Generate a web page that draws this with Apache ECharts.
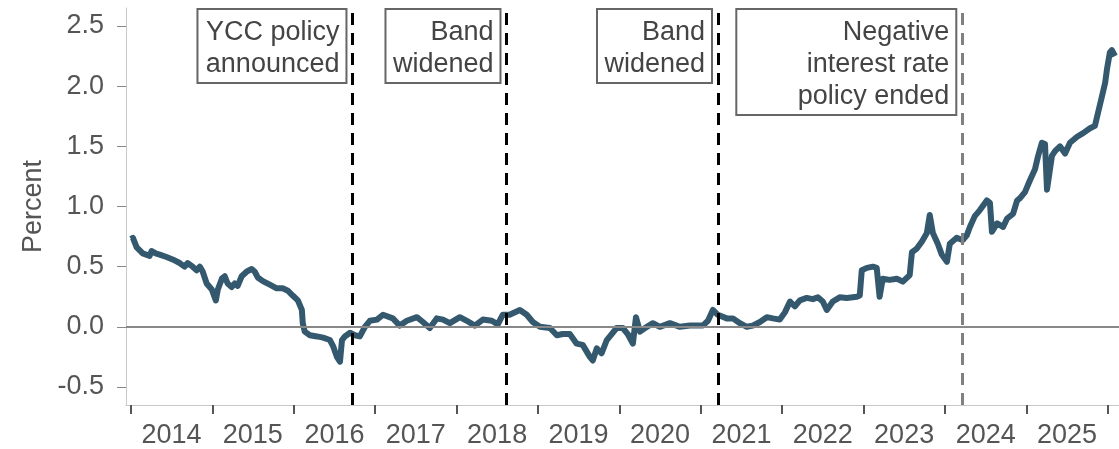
<!DOCTYPE html>
<html><head><meta charset="utf-8">
<script src="https://cdn.jsdelivr.net/npm/echarts@6/dist/echarts.min.js"></script>
<style>html,body{margin:0;padding:0;background:#fff}#c{width:1119px;height:449px}</style>
</head><body><div id="c"></div>
<script>
// ---- data ----
const dates = [
'2014-01-01','2014-01-10','2014-01-27','2014-02-23','2014-03-26','2014-04-04','2014-04-22','2014-05-10','2014-06-10','2014-07-07',
'2014-08-08','2014-08-30','2014-09-13','2014-10-05','2014-10-23','2014-11-06','2014-11-19','2014-12-07','2014-12-30',
'2015-01-17','2015-01-26','2015-02-13','2015-02-26','2015-03-11','2015-03-29','2015-04-12','2015-04-25','2015-05-13','2015-06-05',
'2015-06-27','2015-07-10','2015-07-24','2015-08-16','2015-09-16','2015-10-17','2015-11-13','2015-12-06','2015-12-28',
'2016-01-20','2016-02-07','2016-02-11','2016-02-20','2016-03-14','2016-04-15','2016-05-12','2016-06-12','2016-06-26','2016-07-13',
'2016-07-27','2016-08-05','2016-08-18','2016-09-10','2016-10-02','2016-10-24','2016-11-16','2016-12-08',
'2017-01-09','2017-02-05','2017-03-21','2017-04-21','2017-05-23','2017-07-07','2017-08-03','2017-09-03','2017-10-04','2017-11-01','2017-12-02',
'2018-01-16','2018-02-16','2018-03-24','2018-04-29','2018-06-08','2018-07-05','2018-07-27','2018-08-27','2018-10-12','2018-11-12','2018-12-09',
'2019-01-10','2019-02-24','2019-03-27','2019-04-22','2019-05-24','2019-06-24','2019-07-21','2019-08-22','2019-09-04','2019-09-22',
'2019-10-14','2019-11-06','2019-11-28','2019-12-20',
'2020-01-17','2020-02-08','2020-03-02','2020-03-16','2020-04-03','2020-05-04','2020-05-31','2020-07-01','2020-08-15','2020-09-29','2020-11-13',
'2021-01-10','2021-02-02','2021-02-24','2021-03-18','2021-04-27','2021-05-25','2021-06-25','2021-07-26','2021-08-22','2021-09-23',
'2021-10-24','2021-11-20','2021-12-21',
'2022-01-13','2022-02-05','2022-02-27','2022-03-21','2022-04-21','2022-05-18','2022-06-10','2022-07-02','2022-07-20','2022-08-16',
'2022-09-16','2022-10-18','2022-12-02','2022-12-15','2022-12-24',
'2023-01-16','2023-02-12','2023-03-01','2023-03-14','2023-03-28','2023-04-28','2023-05-30','2023-06-26','2023-07-27','2023-08-06',
'2023-08-28','2023-09-20','2023-10-12','2023-10-25','2023-11-08','2023-11-30','2023-12-18',
'2024-01-10','2024-01-23','2024-02-23','2024-03-21','2024-04-08','2024-04-22','2024-05-14','2024-06-06','2024-07-07','2024-07-21',
'2024-07-30','2024-08-22','2024-09-18','2024-10-06','2024-11-02','2024-11-20','2024-12-03','2024-12-25',
'2025-01-17','2025-02-08','2025-02-22','2025-03-11','2025-03-25','2025-04-03','2025-04-25','2025-05-09','2025-05-31','2025-06-23',
'2025-07-15','2025-08-16','2025-09-12','2025-10-13','2025-11-04','2025-11-18','2025-12-06','2025-12-20','2025-12-28',
'2026-01-10','2026-01-19','2026-02-02'
];
const yields = [
0.73,0.74,0.66,0.61,0.59,0.63,0.61,0.60,0.58,0.56,
0.53,0.50,0.53,0.50,0.47,0.50,0.46,0.36,0.31,
0.22,0.31,0.40,0.42,0.36,0.33,0.36,0.34,0.42,0.46,
0.48,0.46,0.41,0.38,0.35,0.32,0.32,0.30,0.26,
0.22,0.14,0.03,-0.04,-0.07,-0.08,-0.09,-0.11,-0.16,-0.25,
-0.29,-0.11,-0.08,-0.05,-0.07,-0.08,0.00,0.05,
0.06,0.10,0.07,0.01,0.05,0.08,0.04,-0.01,0.07,0.06,0.03,
0.08,0.05,0.01,0.06,0.05,0.02,0.10,0.10,0.14,0.10,0.04,
0.00,-0.01,-0.07,-0.06,-0.06,-0.14,-0.15,-0.25,-0.28,-0.18,
-0.22,-0.11,-0.06,-0.01,
-0.01,-0.06,-0.14,0.08,-0.04,0.00,0.03,0.00,0.03,0.00,0.01,
0.01,0.05,0.14,0.10,0.07,0.07,0.03,0.00,0.01,0.04,
0.08,0.07,0.06,
0.12,0.21,0.17,0.22,0.24,0.23,0.245,0.21,0.14,0.21,
0.245,0.24,0.25,0.26,0.47,
0.49,0.50,0.49,0.25,0.40,0.39,0.40,0.375,0.43,0.62,
0.65,0.71,0.78,0.93,0.78,0.69,0.60,
0.54,0.69,0.74,0.72,0.76,0.83,0.92,0.97,1.05,1.03,
0.79,0.86,0.83,0.90,0.94,1.05,1.07,1.12,
1.22,1.31,1.42,1.53,1.52,1.14,1.42,1.46,1.50,1.44,
1.53,1.58,1.61,1.65,1.67,1.78,1.92,2.03,2.14,
2.28,2.30,2.25
];
const yTickValues = [-0.5, 0, 0.5, 1.0, 1.5, 2.0, 2.5];
const yearLabels = ['2014','2015','2016','2017','2018','2019','2020','2021','2022','2023','2024','2025'];
const yearTickYears = [2014,2015,2016,2017,2018,2019,2020,2021,2022,2023,2024,2025,2026];
const eventDates = ['2016-09-21','2018-08-13','2021-03-19','2024-03-19'];
const eventLabels = ['YCC policy\nannounced','Band\nwidened','Band\nwidened','Negative\ninterest rate\npolicy ended'];
const xRange = ['2013-12-10', '2026-02-20'];

// ---- layout / style (not data) ----
const FONT = '"Liberation Sans", Arial, sans-serif';
const TXT = '#555';
const boxSizes = [[149,74],[115,74],[115,74],[220,106]];
const eventColors = ['#000','#000','#000','#808080'];

const ts = s => { const [y, m, d] = s.split('-').map(Number); return Date.UTC(y, m - 1, d); };
const chart = echarts.init(document.getElementById('c'));
const tickTimes = yearTickYears.map(y => Date.UTC(y, 0, 1));
const labelTimes = yearLabels.map(y => Date.UTC(+y, 6, 2));

chart.setOption({
  animation: false,
  grid: {left: 126, right: 0, top: 8, bottom: 43, containLabel: false},
  xAxis: {
    type: 'value',
    min: ts(xRange[0]), max: ts(xRange[1]),
    axisLine: {show: true, onZero: false, lineStyle: {color: '#c8c8c8', width: 1}},
    axisTick: {show: true, customValues: tickTimes, length: 9, lineStyle: {color: '#555', width: 2}},
    axisLabel: {customValues: labelTimes, formatter: v => String(new Date(v).getUTCFullYear()),
      color: TXT, fontSize: 27, fontFamily: FONT, margin: 17},
    splitLine: {show: false}
  },
  yAxis: {
    type: 'value', min: -0.65, max: 2.65,
    name: 'Percent', nameLocation: 'middle', nameGap: 78, nameRotate: 90,
    nameTextStyle: {color: TXT, fontSize: 27, fontFamily: FONT},
    axisLine: {show: true, onZero: false, lineStyle: {color: '#c8c8c8', width: 1}},
    axisTick: {show: true, customValues: yTickValues, length: 9, lineStyle: {color: '#888', width: 1}},
    axisLabel: {customValues: yTickValues, formatter: v => v.toFixed(1),
      color: TXT, fontSize: 27, fontFamily: FONT, margin: 22},
    splitLine: {show: false}
  },
  series: [
    {
      type: 'line', z: 1, data: [], silent: true,
      markLine: {silent: true, symbol: 'none', animation: false, label: {show: false},
        data: [{yAxis: 0, lineStyle: {color: '#888', width: 2, type: 'solid'}}]}
    },
    {
      type: 'line', z: 2, showSymbol: false, silent: true,
      data: dates.map((d, i) => [ts(d), yields[i]]),
      lineStyle: {color: '#34596f', width: 6, join: 'round'},
      itemStyle: {color: '#34596f'}
    },
    {
      type: 'line', z: 3, data: [], silent: true,
      markLine: {silent: true, symbol: 'none', animation: false, label: {show: false},
        data: eventDates.map((d, i) => ({xAxis: ts(d), lineStyle: {color: eventColors[i], width: 3, type: [12, 8]}}))}
    }
  ]
});

const graphics = [];
eventDates.forEach((d, i) => {
  const xLine = chart.convertToPixel({xAxisIndex: 0}, ts(d));
  const right = xLine - 6;
  const [w, h] = boxSizes[i];
  graphics.push({type: 'rect', shape: {x: right - w, y: 9, width: w, height: h},
    style: {fill: '#fff', stroke: '#666', lineWidth: 2}, z: 10});
  graphics.push({type: 'text', x: right - 7, y: 17, z: 11,
    style: {text: eventLabels[i], align: 'right', verticalAlign: 'top', fill: '#444',
      font: '27px ' + FONT, lineHeight: 32}});
});
chart.setOption({graphic: graphics});
</script></body></html>
